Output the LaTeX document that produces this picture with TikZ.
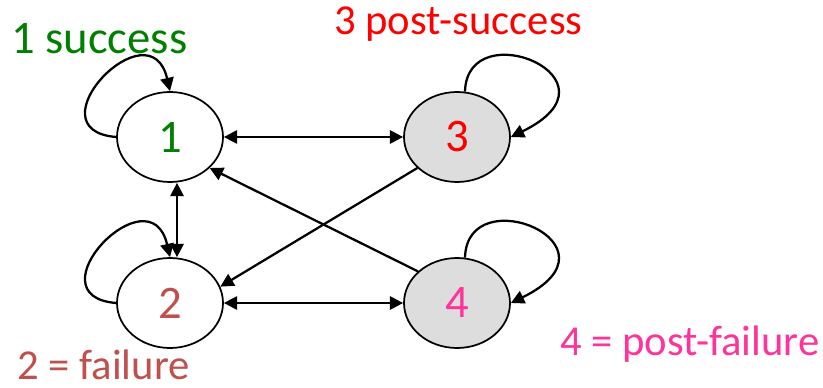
\documentclass[tikz,border=0pt]{standalone}
\usepackage{fontspec}
\setmainfont{Carlito}
\usetikzlibrary{arrows.meta,calc,shapes.geometric}
\definecolor{cgreen}{HTML}{008000}
\definecolor{cred}{HTML}{FF0000}
\definecolor{cpink}{HTML}{FF3399}
\definecolor{cbrown}{HTML}{C0504D}
\definecolor{cgray}{HTML}{DDDDDD}
\begin{document}
\begin{tikzpicture}[x=0.75pt,y=-0.75pt,
  state/.style={draw=black,line width=1.3pt,ellipse,minimum width=106*0.75pt,minimum height=90*0.75pt,inner sep=0pt,font=\fontsize{35}{40}\selectfont},
  grey/.style={fill=cgray},
  lab/.style={anchor=base west,inner sep=0pt,font=\fontsize{32}{38}\selectfont},
  edge/.style={line width=1.7pt,-{Triangle[length=10pt,width=10pt]}},
  bedge/.style={line width=1.7pt,{Triangle[length=10pt,width=10pt]}-{Triangle[length=10pt,width=10pt]}}]
\useasboundingbox (0,0) rectangle (823,388);
\node[state,text=cgreen] (n1) at (170,137) {1};
\node[state,text=cbrown] (n2) at (170,303) {2};
\node[state,grey,text=cred] (n3) at (457,137) {3};
\node[state,grey,text=cpink] (n4) at (457,303) {4};
\node[lab,text=cgreen,font=\fontsize{35}{40}\selectfont] (l1) at (11,54) {1 success};
\node[lab,text=cred] (l3) at (334,35) {3 post-success};
\node[lab,text=cpink] (l4) at (560,355) {4 = post-failure};
\node[lab,text=cbrown] (l2) at (17,379) {2 = failure};
% self loops
\draw[edge] (n1.west) .. controls +(-87,-7) and +(-20,-87) .. (n1.north);
\draw[edge] (n2.west) .. controls +(-87,-7) and +(-20,-87) .. (n2.north);
\draw[edge] (n3.80) .. controls +(2,-80) and +(119,-58) .. (n3.east);
\draw[edge] (n4.80) .. controls +(2,-80) and +(119,-58) .. (n4.east);
% connectors
\draw[bedge] (n1.east) -- (n3.west);
\draw[bedge] (n2.east) -- (n4.west);
\draw[bedge] ($(n1.south)+(7,0)$) -- ($(n2.north)+(7,0)$);
\draw[edge] (n3.218) -- (n2.18);
\draw[edge] (n4.141) -- (n1.-38);
\end{tikzpicture}
\end{document}
